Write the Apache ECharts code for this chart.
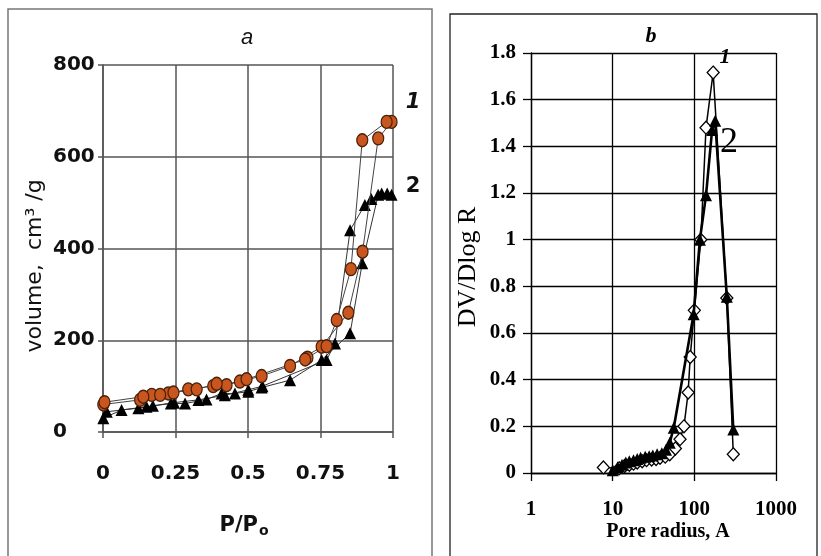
<!DOCTYPE html>
<html><head><meta charset="utf-8">
<script src="https://cdn.jsdelivr.net/npm/echarts@6/dist/echarts.min.js"></script>
<style>html,body{margin:0;padding:0;background:#fff}#c{width:821px;height:556px}</style>
</head><body><div id="c"></div>
<script>
// Panel a: N2 isotherms (P/P0 vs volume, cm3/g)
const isoP1Ads = [0.001, 0.128, 0.168, 0.225, 0.294, 0.38, 0.472, 0.547, 0.645, 0.754, 0.846, 0.895, 0.949, 0.995];
const isoV1Ads = [60, 70, 81, 84, 93, 100, 110, 122, 144, 186, 260, 393, 640, 676];
const isoP1Des = [0.978, 0.894, 0.855, 0.806, 0.771, 0.705, 0.697, 0.495, 0.426, 0.392, 0.323, 0.243, 0.197, 0.139, 0.005];
const isoV1Des = [676, 636, 355, 244, 187, 162, 158, 115, 102, 105, 93, 86, 81, 77, 65];
const isoP2Ads = [0.001, 0.064, 0.122, 0.172, 0.234, 0.283, 0.357, 0.409, 0.455, 0.501, 0.547, 0.645, 0.754, 0.852, 0.894, 0.949, 0.995];
const isoV2Ads = [30, 48, 52, 57, 62, 62, 71, 84, 84, 88, 97, 113, 157, 215, 368, 517, 517];
const isoP2Des = [0.98, 0.961, 0.925, 0.903, 0.852, 0.8, 0.771, 0.55, 0.501, 0.42, 0.329, 0.245, 0.15, 0.013];
const isoV2Des = [520, 520, 508, 495, 440, 193, 157, 100, 92, 80, 70, 64, 55, 44];
// Panel b: pore size distribution (pore radius, A vs DV/DlogR)
const psdR1 = [7.7, 12, 14, 16, 18, 20, 23, 26, 30, 34, 38, 44, 50, 58.6, 66.8, 74.7, 84, 89, 100, 120, 139, 170, 250, 300];
const psdV1 = [0.024, 0.02, 0.03, 0.035, 0.04, 0.045, 0.05, 0.055, 0.058, 0.06, 0.065, 0.07, 0.08, 0.105, 0.145, 0.2, 0.345, 0.497, 0.697, 1.0, 1.48, 1.716, 0.75, 0.08];
const psdR2 = [10, 11.5, 13, 14.5, 16, 18, 20, 22, 25, 28, 31, 35, 40, 45, 50, 56, 98, 117, 139, 165, 180, 250, 300];
const psdV2 = [0.012, 0.025, 0.035, 0.045, 0.05, 0.055, 0.06, 0.065, 0.07, 0.072, 0.075, 0.08, 0.085, 0.1, 0.13, 0.194, 0.68, 1.0, 1.19, 1.47, 1.51, 0.755, 0.186];
// Axis ranges / ticks
const aXMin = 0, aXMax = 1, aXStep = 0.25;
const aYMin = 0, aYMax = 800, aYStep = 200;
const bXMin = 1, bXMax = 1000;
const bYMin = 0, bYMax = 1.8, bYStep = 0.2;

const zip = (xs, ys) => xs.map((x, i) => [x, ys[i]]);
const chart = echarts.init(document.getElementById('c'), null, {renderer: 'canvas'});

const gA = '#555';
const labA = {fontFamily: 'DejaVu Sans', fontWeight: 'bold', fontSize: 20, color: '#111'};
const labB = {fontFamily: 'Liberation Serif', fontWeight: 'bold', fontSize: 21, color: '#000'};

const orangeStyle = {color: '#c8561e', borderColor: '#4a2008', borderWidth: 1.3};
const triA = {color: '#000'};

chart.setOption({
  animation: false,
  backgroundColor: '#fff',
  grid: [
    {left: 103, top: 65, width: 290, height: 367, containLabel: false},
    {left: 531, top: 53, width: 245, height: 420, containLabel: false}
  ],
  xAxis: [
    {gridIndex: 0, type: 'value', min: aXMin, max: aXMax, interval: aXStep,
     axisLine: {show: true, onZero: false, lineStyle: {color: gA, width: 1.5}},
     axisTick: {show: true, length: 6, lineStyle: {color: gA, width: 1.5}},
     splitLine: {show: true, lineStyle: {color: gA, width: 1.5}},
     axisLabel: Object.assign({margin: 32, formatter: v => String(v)}, labA)},
    {gridIndex: 1, type: 'log', logBase: 10, min: bXMin, max: bXMax,
     axisLine: {show: true, onZero: false, lineStyle: {color: '#000', width: 1.3}},
     axisTick: {show: true, length: 8, lineStyle: {color: '#000', width: 1.3}},
     splitLine: {show: true, lineStyle: {color: '#000', width: 1.3}},
     minorTick: {show: false}, minorSplitLine: {show: false},
     axisLabel: Object.assign({margin: 26, formatter: v => String(Math.round(v))}, labB)}
  ],
  yAxis: [
    {gridIndex: 0, type: 'value', min: aYMin, max: aYMax, interval: aYStep,
     axisLine: {show: true, onZero: false, lineStyle: {color: gA, width: 1.5}},
     axisTick: {show: true, length: 5, lineStyle: {color: gA, width: 1.5}},
     splitLine: {show: true, lineStyle: {color: gA, width: 1.5}},
     axisLabel: Object.assign({margin: 50, align: 'left', formatter: v => String(v)}, labA)},
    {gridIndex: 1, type: 'value', min: bYMin, max: bYMax, interval: bYStep,
     axisLine: {show: true, onZero: false, lineStyle: {color: '#000', width: 1.3}},
     axisTick: {show: true, length: 8, lineStyle: {color: '#000', width: 1.3}},
     splitLine: {show: true, lineStyle: {color: '#000', width: 1.3}},
     axisLabel: Object.assign({margin: 15, formatter: v => String(+v.toFixed(1))}, labB)}
  ],
  series: [
    {type: 'line', xAxisIndex: 0, yAxisIndex: 0, data: zip(isoP2Ads, isoV2Ads), symbol: 'triangle', symbolSize: 12,
     itemStyle: triA, lineStyle: {color: '#333', width: 1}, z: 3},
    {type: 'line', xAxisIndex: 0, yAxisIndex: 0, data: zip(isoP2Des, isoV2Des), symbol: 'triangle', symbolSize: 12,
     itemStyle: triA, lineStyle: {color: '#333', width: 1}, z: 3},
    {type: 'line', xAxisIndex: 0, yAxisIndex: 0, data: zip(isoP1Ads, isoV1Ads), symbol: 'circle', symbolSize: [11, 13],
     itemStyle: orangeStyle, lineStyle: {color: '#444', width: 1}, z: 4},
    {type: 'line', xAxisIndex: 0, yAxisIndex: 0, data: zip(isoP1Des, isoV1Des), symbol: 'circle', symbolSize: [11, 13],
     itemStyle: orangeStyle, lineStyle: {color: '#444', width: 1}, z: 4},
    {type: 'line', xAxisIndex: 1, yAxisIndex: 1, data: zip(psdR1, psdV1), symbol: 'diamond', symbolSize: [12, 13],
     itemStyle: {color: '#fff', borderColor: '#000', borderWidth: 1.3}, lineStyle: {color: '#000', width: 1.5}, z: 3},
    {type: 'line', xAxisIndex: 1, yAxisIndex: 1, data: zip(psdR2, psdV2), symbol: 'triangle', symbolSize: 12,
     itemStyle: {color: '#000'}, lineStyle: {color: '#000', width: 2.6}, z: 4}
  ],
  graphic: [
    {type: 'rect', shape: {x: 8, y: 9, width: 424, height: 580}, style: {fill: 'none', stroke: '#777', lineWidth: 1.5}, silent: true},
    {type: 'rect', shape: {x: 450, y: 14, width: 367, height: 580}, style: {fill: 'none', stroke: '#222', lineWidth: 1.3}, silent: true},
    {type: 'text', x: 247, y: 38, style: {text: 'a', font: 'italic 22px "Liberation Sans"', fill: '#111', align: 'center', verticalAlign: 'middle'}},
    {type: 'text', x: 35, y: 266, rotation: Math.PI / 2, style: {text: 'volume,  cm\u00B3 /g', font: '22px "DejaVu Sans"', fill: '#111', align: 'center', verticalAlign: 'middle'}},
    {type: 'text', x: 258, y: 526, style: {text: 'P/P', font: 'bold 21px "DejaVu Sans"', fill: '#111', align: 'right', verticalAlign: 'middle'}},
    {type: 'text', x: 259, y: 531, style: {text: 'o', font: 'bold 14px "DejaVu Sans"', fill: '#111', align: 'left', verticalAlign: 'middle'}},
    {type: 'text', x: 413, y: 103, style: {text: '1', font: 'italic bold 21px "DejaVu Sans"', fill: '#111', align: 'center', verticalAlign: 'middle'}},
    {type: 'text', x: 413, y: 187, style: {text: '2', font: 'bold 21px "DejaVu Sans"', fill: '#111', align: 'center', verticalAlign: 'middle'}},
    {type: 'text', x: 651, y: 36, style: {text: 'b', font: 'italic bold 22px "Liberation Serif"', fill: '#000', align: 'center', verticalAlign: 'middle'}},
    {type: 'text', x: 468, y: 267, rotation: Math.PI / 2, style: {text: 'DV/Dlog R', font: '26px "Liberation Serif"', fill: '#000', align: 'center', verticalAlign: 'middle'}},
    {type: 'text', x: 668, y: 532, style: {text: 'Pore radius, A', font: 'bold 20px "Liberation Serif"', fill: '#000', align: 'center', verticalAlign: 'middle'}},
    {type: 'text', x: 725, y: 57, style: {text: '1', font: 'italic bold 22px "Liberation Serif"', fill: '#000', align: 'center', verticalAlign: 'middle'}},
    {type: 'text', x: 729, y: 143, style: {text: '2', font: '36px "Liberation Serif"', fill: '#000', align: 'center', verticalAlign: 'middle'}}
  ]
});
</script></body></html>
